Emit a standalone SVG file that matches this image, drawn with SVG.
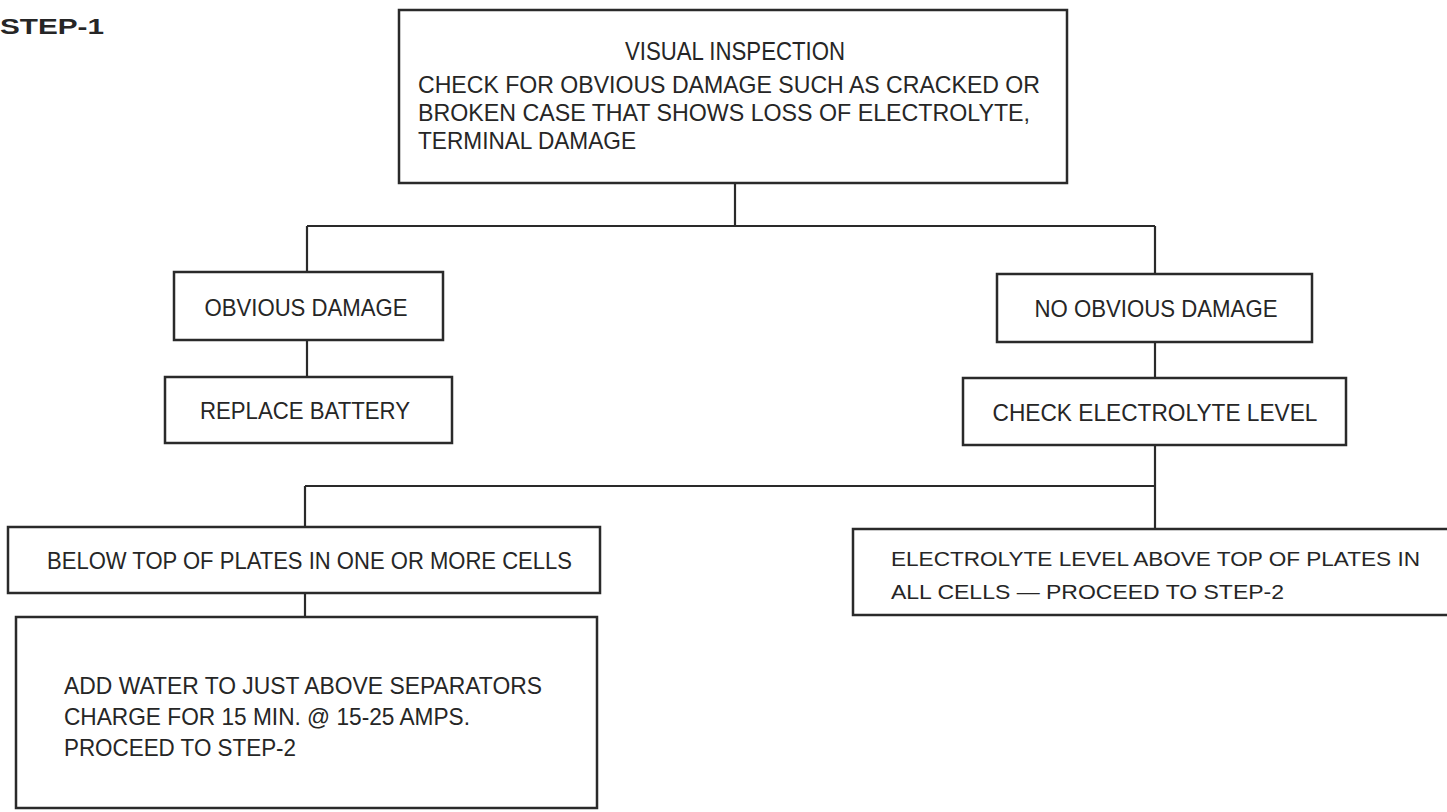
<svg xmlns="http://www.w3.org/2000/svg" width="1447" height="812" viewBox="0 0 1447 812">
<style>
.box{fill:#fff;stroke:#2a2a2a;stroke-width:2.5}
.con{stroke:#2a2a2a;stroke-width:2.2;fill:none}
text{font-family:"Liberation Sans",Arial,sans-serif;fill:#262626;font-size:24px}
.c{text-anchor:middle}
.s{font-size:21px}
</style>
<rect width="1447" height="812" fill="#fff"/>
<text x="0" y="34" style="font-weight:bold;font-size:22px" textLength="104" lengthAdjust="spacingAndGlyphs">STEP-1</text>
<g id="connectors">
<path class="con" d="M735 183V226M307 226H1155M307 226V272M307 340V377M1155 226V274M1155 342V378M1155 445V529M305 486H1155M305 486V527M305 593V617"/>
</g>
<g id="visual">
<rect class="box" x="399" y="10" width="668" height="173"/>
<text x="735" y="60" class="c" style="font-size:26px" textLength="220" lengthAdjust="spacingAndGlyphs">VISUAL INSPECTION</text>
<text x="418" y="93" textLength="622" lengthAdjust="spacingAndGlyphs">CHECK FOR OBVIOUS DAMAGE SUCH AS CRACKED OR</text>
<text x="418" y="121" textLength="612" lengthAdjust="spacingAndGlyphs">BROKEN CASE THAT SHOWS LOSS OF ELECTROLYTE,</text>
<text x="418" y="149" textLength="218" lengthAdjust="spacingAndGlyphs">TERMINAL DAMAGE</text>
</g>
<g id="obvious">
<rect class="box" x="174" y="272" width="269" height="68"/>
<text x="306" y="316" class="c" textLength="203" lengthAdjust="spacingAndGlyphs">OBVIOUS DAMAGE</text>
</g>
<g id="replace">
<rect class="box" x="165" y="377" width="287" height="66"/>
<text x="305" y="419" class="c" textLength="210" lengthAdjust="spacingAndGlyphs">REPLACE BATTERY</text>
</g>
<g id="noobvious">
<rect class="box" x="997" y="274" width="315" height="68"/>
<text x="1156" y="317" class="c" textLength="243" lengthAdjust="spacingAndGlyphs">NO OBVIOUS DAMAGE</text>
</g>
<g id="checklevel">
<rect class="box" x="963" y="378" width="383" height="67"/>
<text x="1155" y="421" class="c" textLength="325" lengthAdjust="spacingAndGlyphs">CHECK ELECTROLYTE LEVEL</text>
</g>
<g id="below">
<rect class="box" x="8" y="527" width="592" height="66"/>
<text x="47" y="569" textLength="525" lengthAdjust="spacingAndGlyphs">BELOW TOP OF PLATES IN ONE OR MORE CELLS</text>
</g>
<g id="above">
<path class="box" d="M1447 529H853V615H1447"/>
<text x="891" y="566" class="s" textLength="529" lengthAdjust="spacingAndGlyphs">ELECTROLYTE LEVEL ABOVE TOP OF PLATES IN</text>
<text x="891" y="599" class="s" textLength="393" lengthAdjust="spacingAndGlyphs">ALL CELLS — PROCEED TO STEP-2</text>
</g>
<g id="addwater">
<rect class="box" x="16" y="617" width="581" height="191"/>
<text x="64" y="694" textLength="478" lengthAdjust="spacingAndGlyphs">ADD WATER TO JUST ABOVE SEPARATORS</text>
<text x="64" y="725" textLength="406" lengthAdjust="spacingAndGlyphs">CHARGE FOR 15 MIN. @ 15-25 AMPS.</text>
<text x="64" y="756" textLength="232" lengthAdjust="spacingAndGlyphs">PROCEED TO STEP-2</text>
</g>
</svg>
